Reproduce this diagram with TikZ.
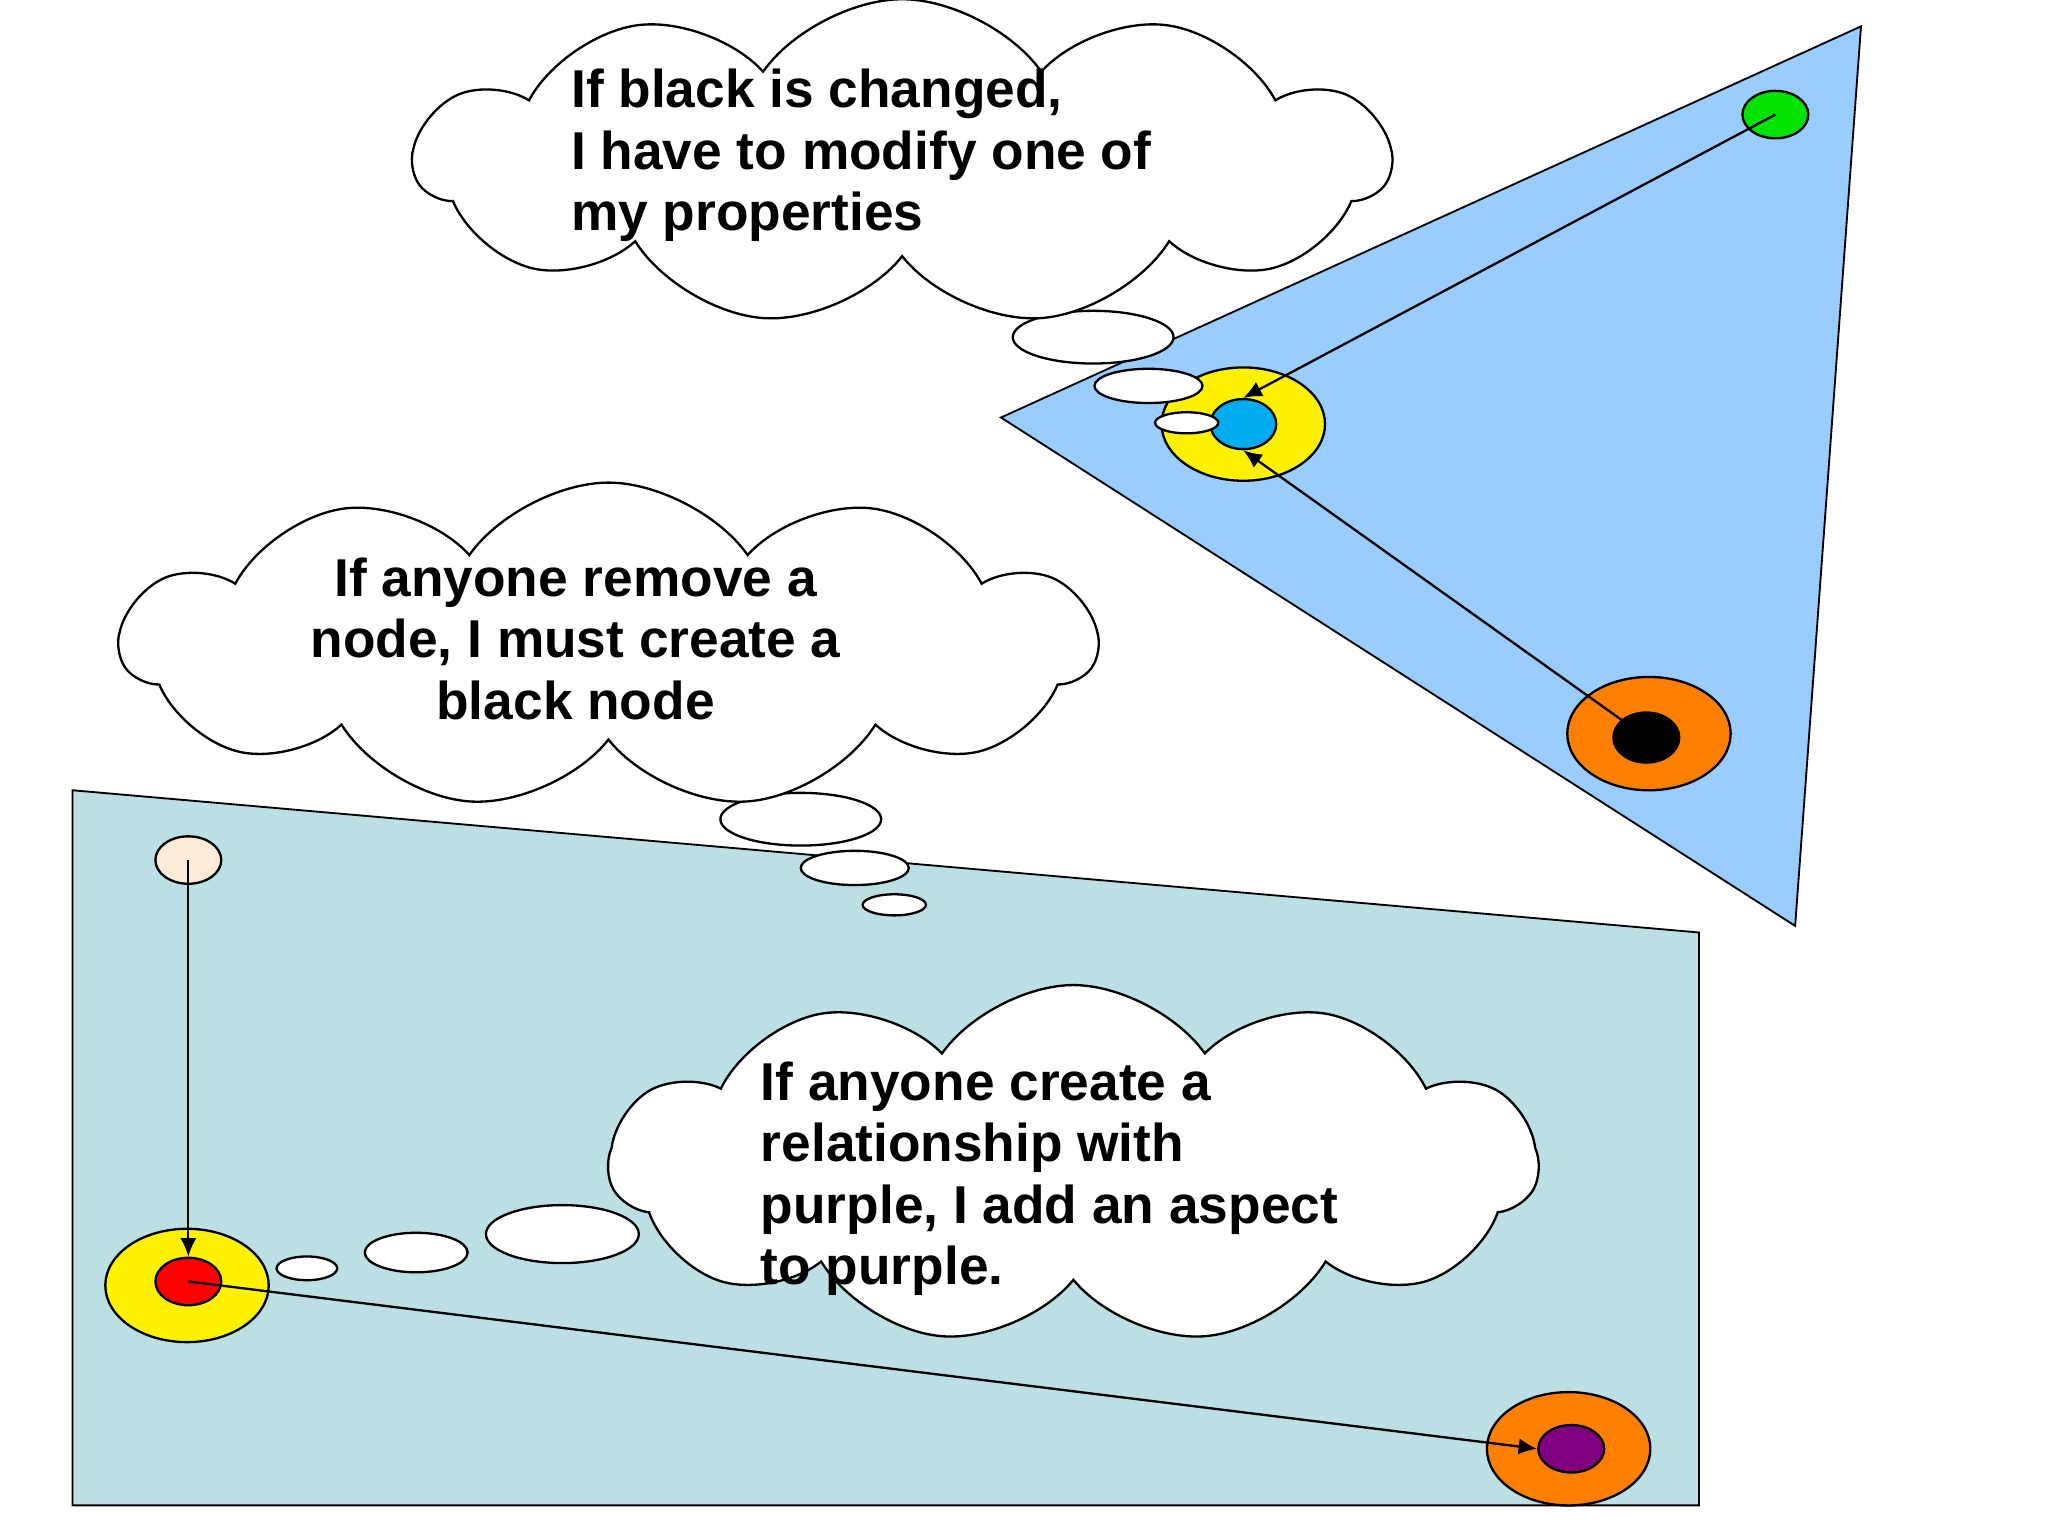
\documentclass[tikz,border=0pt]{standalone}
\usepackage{fontspec}
\setmainfont{Liberation Sans}
\usetikzlibrary{shapes.geometric,shapes.symbols,arrows.meta}
\tikzset{
  dot/.style={ellipse, draw, line width=0.5pt, inner sep=0pt, minimum width=5cm*0.01*#1},
  bubble/.style={ellipse, draw, fill=white, line width=0.5pt, inner sep=0pt},
  thought/.style={cloud, draw, fill=white, line width=0.5pt, cloud puffs=11, cloud puff arc=110, inner sep=0pt},
  says/.style={font=\bfseries\fontsize{11.5}{13.3}\selectfont, inner sep=0pt},
  link/.style={-{Latex[length=4pt,width=3.5pt]}, line width=0.5pt},
}
\begin{document}
\begin{tikzpicture}[x=0.01cm, y=-0.01cm]
    \useasboundingbox (0,0) rectangle (1555,1166);

    % Planes
    \draw[fill={rgb,255:red,153;green,204;blue,255}] (760,317) -- (1413,20) -- (1363,703) -- cycle;
    \draw[fill={rgb,255:red,187;green,223;blue,227}] (55,600) -- (1290,708) -- (1290,1143) -- (55,1143) -- cycle;

    % Nodes of the upper plane
    \node[dot, fill=green!85!black!70!green, minimum width=0.5cm, minimum height=0.36cm] (green) at (1348,87) {};
    \node[dot, fill=yellow, minimum width=1.24cm, minimum height=0.86cm] (ringA) at (944,322) {};
    \node[dot, fill=cyan, minimum width=0.5cm, minimum height=0.38cm] (cyan) at (944,322) {};
    \node[dot, fill=orange, minimum width=1.24cm, minimum height=0.86cm] (ringB) at (1252,557) {};
    \node[dot, fill=black, minimum width=0.5cm, minimum height=0.38cm] (black) at (1250,560) {};

    % Nodes of the lower plane
    \node[dot, fill={rgb,255:red,253;green,235;blue,214}, minimum width=0.5cm, minimum height=0.36cm] (cream) at (143,653) {};
    \node[dot, fill=yellow, minimum width=1.24cm, minimum height=0.86cm] (ringC) at (142,976) {};
    \node[dot, fill=red, minimum width=0.5cm, minimum height=0.36cm] (red) at (143,973) {};
    \node[dot, fill=orange, minimum width=1.24cm, minimum height=0.86cm] (ringD) at (1191,1100) {};
    \node[dot, fill={rgb,255:red,128;green,0;blue,128}, minimum width=0.5cm, minimum height=0.36cm] (purple) at (1193,1100) {};

    % Connect the nodes
    \draw[link] (green.center) -- (cyan.north);
    \draw[link] (black.center) -- (cyan.south);
    \draw[link] (cream.center) -- (red.north);
    \draw[link] (red.center) -- (purple.west);

    % Thought bubbles
    \node[bubble, minimum width=1.22cm, minimum height=0.4cm]  (b1a) at (830,256) {};
    \node[bubble, minimum width=0.82cm, minimum height=0.26cm] (b1b) at (872,293) {};
    \node[bubble, minimum width=0.48cm, minimum height=0.16cm] (b1c) at (901,321) {};
    \node[bubble, minimum width=1.22cm, minimum height=0.4cm]  (b2a) at (608,622) {};
    \node[bubble, minimum width=0.82cm, minimum height=0.26cm] (b2b) at (649,659) {};
    \node[bubble, minimum width=0.48cm, minimum height=0.16cm] (b2c) at (679,687) {};
    \node[bubble, minimum width=1.16cm, minimum height=0.44cm] (b3a) at (427,937) {};
    \node[bubble, minimum width=0.78cm, minimum height=0.3cm]  (b3b) at (316,951) {};
    \node[bubble, minimum width=0.46cm, minimum height=0.18cm] (b3c) at (233,963) {};

    % Clouds
    \node[thought, minimum width=7.4cm, minimum height=2.47cm] (cloudA) at (685,123) {};
    \node[thought, minimum width=7.4cm, minimum height=2.47cm] (cloudB) at (462,490) {};
    \node[thought, minimum width=7.05cm, minimum height=2.72cm] (cloudC) at (815,884) {};

    \node[says, align=left, anchor=west] (textA) at (433,118)
        {If black is changed,\\I have to modify one of\\my properties};
    \node[says, align=center] (textB) at (437,485)
        {If anyone remove a\\node, I must create a\\black node};
    \node[says, align=left, anchor=west] (textC) at (577,895)
        {If anyone create a\\relationship with\\purple, I add an aspect\\to purple.};

\end{tikzpicture}
\end{document}
